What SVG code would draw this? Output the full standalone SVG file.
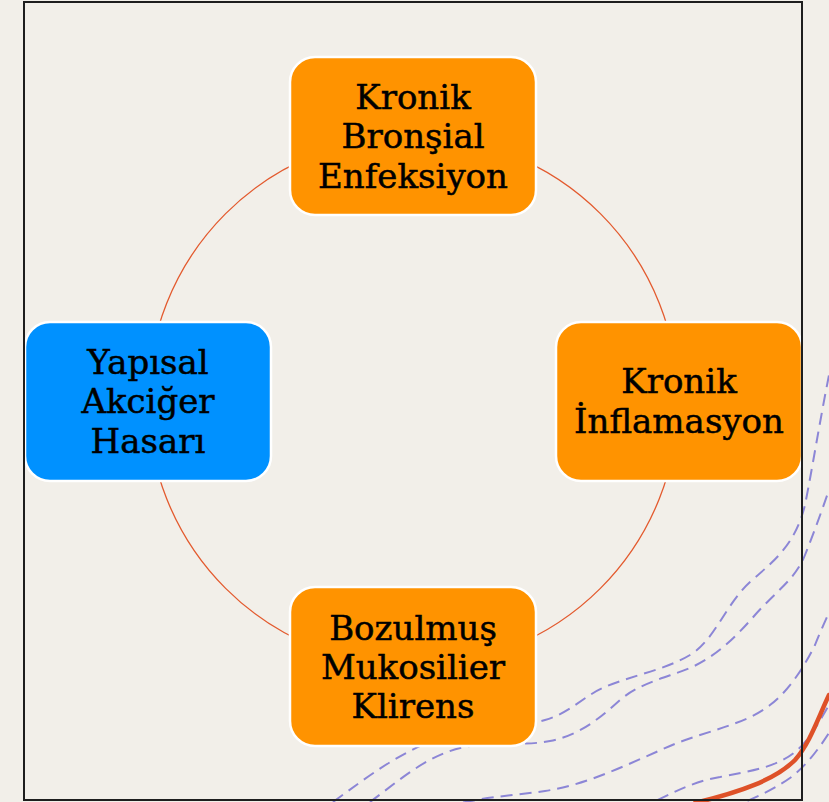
<svg xmlns="http://www.w3.org/2000/svg" width="829" height="802" viewBox="0 0 829 802">
  <style>
    .bg { fill: #F2EFE9; }
    .dash { fill: none; stroke: #8C86D6; stroke-width: 2; stroke-dasharray: 12 7; stroke-linecap: butt; }
    .red { fill: none; stroke: #DE5128; stroke-width: 4.5; stroke-linecap: round; }
    .ring { fill: none; stroke: #E35A2E; stroke-width: 1.3; }
    .box { stroke: #FFFFFF; stroke-width: 2.5; }
    .orange { fill: #FF9300; }
    .blue { fill: #0091FF; }
    .lbl { font-family: "DejaVu Serif", "Liberation Serif", serif; font-size: 34px; fill: #000000; stroke: #000000; stroke-width: 0.5; text-anchor: middle; }
    .frame { fill: none; stroke: #1E1E1E; stroke-width: 2; }
  </style>
  <rect class="bg" x="0" y="0" width="829" height="802"/>
  <g id="decor">
    <path class="dash" d="M333,802 C370,775 400,752 440,738 C480,726 520,728 545,720 C570,713 585,695 605,687 C630,676 665,670 690,655 C715,640 725,605 750,582 C775,560 795,545 805,505 C812,470 820,420 829,375"/>
    <path class="dash" d="M370,802 C400,780 430,752 470,746 C500,742 525,746 550,741 C580,735 600,718 620,700 C640,683 665,678 690,668 C715,657 735,638 755,615 C775,592 795,580 805,555 C815,530 822,510 829,490"/>
    <path class="dash" d="M445,808 C470,798 510,796 545,791 C590,784 630,763 670,746 C705,731 745,725 770,705 C790,690 805,665 815,645 C820,632 825,622 829,612"/>
    <path class="dash" d="M640,808 C670,795 690,782 720,777 C750,771 775,768 795,752 C810,740 820,720 829,705"/>
    <path class="dash" d="M730,808 C750,800 770,792 790,778 C805,767 818,750 829,733"/>
    <path class="red" d="M695,803 C740,792 775,780 795,760 C810,743 818,718 829,695"/>
  </g>
  <g id="connectors">
    <circle class="ring" cx="413" cy="401" r="265"/>
  </g>
  <g id="node-top">
    <rect class="box orange" x="290" y="57" width="246" height="158" rx="25" ry="25"/>
    <text class="lbl" x="413" y="109">Kronik</text>
    <text class="lbl" x="413" y="148">Bronşial</text>
    <text class="lbl" x="413" y="188">Enfeksiyon</text>
  </g>
  <g id="node-right">
    <rect class="box orange" x="556" y="322" width="246" height="159" rx="25" ry="25"/>
    <text class="lbl" x="679" y="393">Kronik</text>
    <text class="lbl" x="679" y="433">İnflamasyon</text>
  </g>
  <g id="node-bottom">
    <rect class="box orange" x="290" y="587" width="246" height="159" rx="25" ry="25"/>
    <text class="lbl" x="413" y="640">Bozulmuş</text>
    <text class="lbl" x="413" y="679">Mukosilier</text>
    <text class="lbl" x="413" y="718">Klirens</text>
  </g>
  <g id="node-left">
    <rect class="box blue" x="25" y="322" width="246" height="159" rx="25" ry="25"/>
    <text class="lbl" x="148" y="374">Yapısal</text>
    <text class="lbl" x="148" y="413">Akciğer</text>
    <text class="lbl" x="148" y="453">Hasarı</text>
  </g>
  <rect class="frame" x="24" y="2" width="778" height="798"/>
</svg>
